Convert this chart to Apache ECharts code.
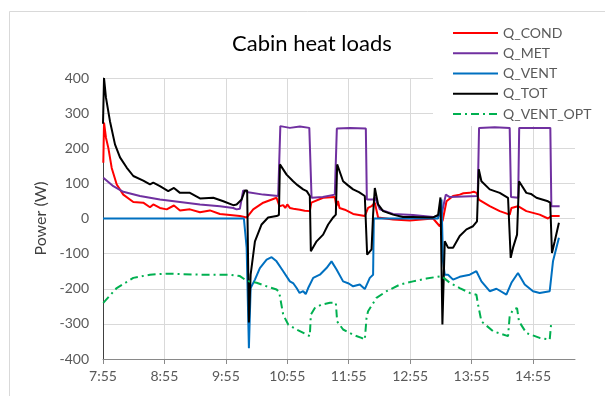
<!DOCTYPE html>
<html>
<head>
<meta charset="utf-8">
<script src="https://cdn.jsdelivr.net/npm/echarts@6/dist/echarts.min.js"></script>
<style>html,body{margin:0;padding:0;background:#fff}#c{width:605px;height:396px}</style>
</head>
<body>
<div id="c"></div>
<script>
// time in minutes after 7:55, value in W
const seriesNames = ['Q_COND', 'Q_MET', 'Q_VENT', 'Q_TOT', 'Q_VENT_OPT'];
const startHour = 7, startMin = 55;
const tickMinutes = [0, 60, 120, 180, 240, 300, 360, 420];

const qCond = [[0.3,159],[1.0,273],[2.9,230],[5.2,201],[8.5,144],[13.4,97],[19.8,68],[29.6,47],[39.3,45],[45.9,32],[49.1,40],[55.6,30],[62.2,26],[69.3,37],[75.2,23],[84.9,26],[94.7,18],[104.4,23],[114.2,13],[124.0,10],[133.7,7],[140.5,3],[141.8,0],[146.7,26],[156.5,45],[169.5,59],[171.3,60],[172.3,35],[176,38],[178,30],[180,40],[182.5,30],[186,28],[192.3,25],[197,22],[202.0,21],[203.5,45],[215.0,59],[226.4,61],[227.9,35],[229.5,50],[231,30],[236.2,25],[244.3,13],[255.7,7],[258.9,30],[262.3,35],[265.5,45],[268.7,3],[283.3,-3],[299.6,-6],[322.4,0],[328.9,-22],[331.8,-5],[335.5,49],[341.9,64],[348.4,68],[352,72],[358.2,73],[362,76],[365.0,73],[367.0,54],[377.7,35],[387.5,21],[397.2,11],[398.9,30],[405.3,35],[413.5,21],[426.5,11],[434.6,0],[437.9,7],[446.0,7]];

const qMet = [[0.3,116],[10.1,92],[19.8,76],[36.1,64],[55.6,54],[75.2,47],[94.7,40],[114.2,35],[127.2,30],[130.5,26],[133.7,28],[136.9,80],[141.8,75],[143.5,76],[156.5,68],[171.1,64],[172.3,64],[173.2,263],[182.5,258],[192.3,262],[201.5,258],[203.7,59],[214.7,61],[226.4,68],[227.6,66],[228.4,256],[241.1,258],[256.7,256],[257.7,54],[263.8,54],[265.5,60],[270.4,26],[283.3,13],[302.8,10],[322.4,4],[330.6,10],[334.8,68],[338.7,61],[366.0,64],[367.3,258],[382.6,260],[397.2,258],[398.5,61],[405.5,59],[406.5,258],[421.6,258],[436.9,258],[437.9,35],[446.0,35]];

const qVent = [[0,0],[137.6,0],[140.3,-83],[142.5,-369],[144.2,-198],[148.4,-174],[153.2,-141],[159.8,-117],[164.7,-110],[169.5,-122],[176.0,-150],[182.5,-179],[186,-185],[189.1,-198],[192,-212],[195.5,-207],[198,-215],[200.4,-198],[205.3,-169],[211.8,-160],[218.3,-141],[223.2,-122],[228.1,-145],[234.5,-179],[240,-185],[244.3,-193],[250.8,-188],[255.7,-201],[260.6,-169],[263.8,-160],[264.5,0],[327.3,0],[330.6,54],[332.1,-122],[333.8,-160],[337.0,-160],[341.9,-174],[348.4,-166],[358.2,-160],[364.7,-150],[369.6,-179],[377.7,-207],[384.3,-200],[394.0,-217],[398.9,-183],[405.3,-155],[411.9,-188],[420.0,-207],[426.5,-212],[436.3,-207],[439.5,-122],[445.3,-55]];

const qTot = [[0,270],[1.0,400],[2.9,344],[6.8,277],[11.7,211],[16.6,174],[23.1,145],[29.6,121],[39.3,108],[45.9,97],[49.1,102],[55.6,92],[63.7,78],[69.3,87],[75.2,73],[84.9,73],[94.7,57],[107.7,59],[117.5,49],[127.2,38],[130.5,40],[135.4,54],[138.6,80],[140.8,80],[142.5,-296],[144.2,-160],[148.4,-65],[154.9,-17],[161.3,3],[169.5,7],[171.8,10],[172.8,154],[179.3,125],[185.7,106],[190,95],[195.5,83],[199,78],[202.0,64],[203.0,-93],[208.6,-65],[215.0,-46],[219.9,-17],[224.8,3],[227.4,11],[228.7,154],[234.5,106],[239,95],[244.3,83],[250,75],[255.7,64],[258.0,-103],[262.3,-88],[263.8,11],[265.5,87],[268.7,40],[273.6,21],[283.3,11],[293.1,4],[302.8,4],[322.4,3],[327.3,10],[329.6,60],[331.5,-302],[333.8,-65],[337.0,-83],[341.9,-83],[348.4,-50],[355.0,-31],[361.4,-22],[365.3,-8],[367.0,140],[369.6,106],[377.7,83],[387.5,73],[395.6,59],[398.2,-112],[400.5,-83],[404.4,-46],[406.3,106],[407.0,111],[413.5,73],[418,70],[423.3,59],[434.6,49],[436.8,45],[438.5,-98],[441.2,-65],[445.3,-12]];

const qVentOpt = [[0.3,-240],[13.4,-198],[29.6,-169],[45.9,-160],[62.2,-157],[94.7,-160],[124.0,-160],[133.7,-164],[138.6,-174],[143.5,-180],[150.0,-183],[159.8,-193],[169.5,-202],[172.1,-210],[176.0,-274],[180.9,-302],[189.1,-316],[202.0,-335],[203.0,-274],[206.9,-255],[213.5,-245],[221.6,-240],[227.4,-240],[228.7,-293],[234.5,-316],[244.3,-331],[252.5,-340],[255.7,-345],[257.4,-283],[258.9,-264],[267.1,-226],[276.9,-207],[290.1,-188],[302.8,-179],[315.9,-171],[330.6,-164],[338.7,-183],[348.4,-198],[358.2,-212],[364.7,-217],[366.3,-245],[369.6,-293],[381.0,-321],[395.6,-335],[397.2,-278],[400.5,-259],[404.4,-255],[406.3,-293],[413.5,-326],[426.5,-340],[436.3,-345],[437.9,-293]];

const seriesData = [qCond, qMet, qVent, qTot, qVentOpt];
const colors = ['#ff0000', '#7030a0', '#0070c0', '#000000', '#00b050'];
const dashes = ['solid', 'solid', 'solid', 'solid', [8, 4, 2, 4]];

function fmtTime(v) {
  const total = startHour * 60 + startMin + v;
  const h = Math.floor(total / 60), m = Math.round(total % 60);
  return h + ':' + (m < 10 ? '0' + m : m);
}

const FONT = 'Lato';
const chart = echarts.init(document.getElementById('c'), null, {renderer: 'canvas'});
chart.setOption({
  animation: false,
  backgroundColor: '#fff',
  textStyle: {fontFamily: FONT},
  graphic: [{
    type: 'rect', z: -10, silent: true,
    shape: {x: 9.5, y: 11.5, width: 700, height: 500},
    style: {fill: '#fff', stroke: '#d9d9d9', lineWidth: 1}
  }],
  title: {
    text: 'Cabin heat loads',
    left: 227, top: 28,
    textStyle: {fontFamily: FONT, fontSize: 22, fontWeight: 'normal', color: '#000'}
  },
  legend: {
    orient: 'vertical',
    left: 433, top: 21,
    padding: [5, 20, 5, 19],
    backgroundColor: '#fff',
    itemWidth: 45, itemHeight: 14, itemGap: 6.25,
    itemStyle: {opacity: 0},
    textStyle: {fontFamily: FONT, fontSize: 14, color: '#595959'},
    data: seriesNames,
    z: 10
  },
  grid: {left: 103, right: 30, top: 78, bottom: 37, containLabel: false},
  xAxis: {
    type: 'value', min: 0, max: 461,
    axisLine: {onZero: false, lineStyle: {color: '#898989', width: 1}},
    axisTick: {show: true, length: 5, customValues: tickMinutes, lineStyle: {color: '#898989'}},
    axisLabel: {customValues: tickMinutes, formatter: fmtTime, margin: 10, fontFamily: FONT, fontSize: 14, color: '#595959'},
    splitLine: {show: true, lineStyle: {color: '#d9d9d9', width: 1}}
  },
  yAxis: {
    type: 'value', min: -400, max: 400, interval: 100,
    name: 'Power (W)', nameLocation: 'middle', nameGap: 50, nameRotate: 90,
    nameTextStyle: {fontFamily: FONT, fontSize: 16, color: '#404040'},
    axisLine: {show: true, lineStyle: {color: '#404040', width: 1}},
    axisTick: {show: false},
    axisLabel: {margin: 14, fontFamily: FONT, fontSize: 14, color: '#595959'},
    splitLine: {show: true, lineStyle: {color: '#d9d9d9', width: 1}}
  },
  series: seriesNames.map((n, i) => ({
    name: n, type: 'line', data: seriesData[i],
    showSymbol: false, symbol: 'none',
    lineStyle: {color: colors[i], width: 2, type: dashes[i]},
    itemStyle: {color: colors[i]},
    clip: true
  }))
});
</script>
</body>
</html>
